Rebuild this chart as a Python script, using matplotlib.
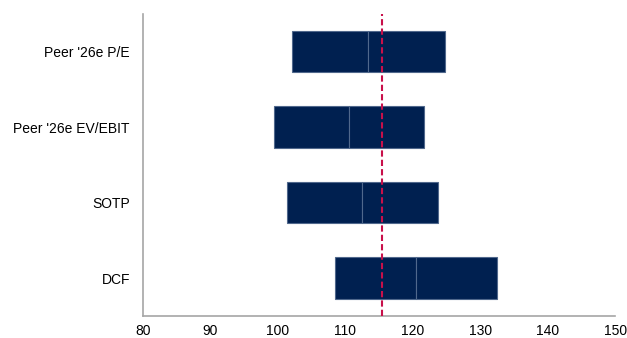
import matplotlib
matplotlib.use('Agg')
import matplotlib.pyplot as plt

# ── Data ──────────────────────────────────────────────────────────────────────
methods = ["Peer '26e P/E", "Peer '26e EV/EBIT", "SOTP", "DCF"]
low  = [102.1, 99.5, 101.3, 108.5]
mid  = [113.4, 110.5, 112.5, 120.5]
high = [124.8, 121.6, 123.8, 132.5]
current_price = 115.5

NAVY = '#002050'
EDGE = '#50688c'
RED = '#c8104a'
SPINE = '#a6a6a6'

plt.rcParams.update({
    'font.family': ['Liberation Sans', 'DejaVu Sans'],
    'font.size': 10,
})

fig, ax = plt.subplots(figsize=(6.27, 3.38), dpi=100)
fig.subplots_adjust(left=0.228, right=0.981, bottom=0.065, top=0.959)

ypos = list(range(len(methods)))[::-1]

# two segments per method: low→mid, mid→high
ax.barh(ypos, [m - l for l, m in zip(low, mid)], left=low, height=0.55,
        color=NAVY, edgecolor=EDGE, linewidth=0.8, zorder=2)
ax.barh(ypos, [h - m for m, h in zip(mid, high)], left=mid, height=0.55,
        color=NAVY, edgecolor=EDGE, linewidth=0.8, zorder=2)

ax.axvline(current_price, color=RED, lw=1.5, ls=(0, (3, 1.5)), zorder=3)

ax.set_xlim(80, 150)
ax.set_ylim(-0.5, 3.5)
ax.set_xticks(range(80, 151, 10))
ax.set_yticks(ypos)
ax.set_yticklabels(methods)
ax.tick_params(axis='both', length=0, labelsize=10, colors='black')
ax.tick_params(axis='y', pad=9.4)
ax.tick_params(axis='x', pad=6)

for side in ['top', 'right']:
    ax.spines[side].set_visible(False)
for side in ['left', 'bottom']:
    ax.spines[side].set_color(SPINE)
    ax.spines[side].set_linewidth(1.2)

plt.savefig('out.png', dpi=100)
